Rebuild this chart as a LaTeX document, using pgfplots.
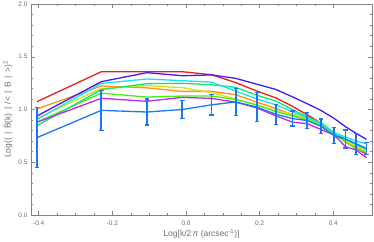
\documentclass[border=0pt]{standalone}
\usepackage{fontspec}
\setmainfont{Liberation Sans}
\usepackage{pgfplots}
\pgfplotsset{compat=1.18}
\definecolor{cRed}{RGB}{235,30,30}
\definecolor{cOrange}{RGB}{255,145,25}
\definecolor{cYellow}{RGB}{215,225,20}
\definecolor{cLime}{RGB}{80,235,20}
\definecolor{cSpring}{RGB}{20,225,110}
\definecolor{cCyan}{RGB}{25,225,240}
\definecolor{cBlue}{RGB}{70,25,240}
\definecolor{cMagenta}{RGB}{190,40,240}
\definecolor{cAzure}{RGB}{25,120,240}
\definecolor{axgray}{RGB}{130,130,130}
\definecolor{lblgray}{RGB}{110,110,110}
\newcommand\gap{\hspace{3.5bp}}
\begin{document}
\begin{tikzpicture}
\begin{axis}[
  scale only axis, width=341bp, height=211bp,
  xmin=-0.421, xmax=0.505, ymin=0, ymax=2,
  xtick={-0.4,-0.2,0,0.2,0.4}, minor x tick num=3,
  ytick={0,0.5,1,1.5,2}, minor y tick num=4,
  tick align=inside,
  major tick length=4bp, minor tick length=2.2bp,
  axis line style={draw=axgray, line width=0.8pt},
  every tick/.style={draw=axgray, line width=0.5pt},
  /pgf/number format/assume math mode=true,
  tick label style={font=\fontsize{6.5}{7.5}\selectfont, text=lblgray,
    /pgf/number format/fixed, /pgf/number format/fixed zerofill,
    /pgf/number format/precision=1},
  xticklabel style={anchor=center, yshift=-8.5bp},
  xlabel={Log[k/2\,{\itshape π} (arcsec\textsuperscript{-1})]},
  ylabel={Log((\gap|\gap$\hat{\mbox{B}}$(k)\gap|\gap/<\gap|\gap B\gap|\gap>)\textsuperscript{2}},
  xlabel style={font=\fontsize{8.5}{10}\selectfont, text=lblgray,
    at={(axis description cs:0.5,-0.0877)}, anchor=center},
  ylabel style={font=\fontsize{8.5}{10}\selectfont, text=lblgray,
    at={(axis description cs:-0.069,0.5)}, anchor=center},
  every axis plot/.append style={line width=1.3pt, mark=none},
]
\coordinate (sw) at (rel axis cs:0,0);
\coordinate (ne) at (rel axis cs:1,1);
\addplot[cRed] coordinates {(-0.405,1.074) (-0.230,1.358) (-0.106,1.358) (-0.010,1.358) (0.069,1.33) (0.135,1.255) (0.192,1.175) (0.244,1.11) (0.289,1.03) (0.329,0.95) (0.367,0.87) (0.402,0.775) (0.433,0.70) (0.462,0.63) (0.490,0.578)};
\addplot[cOrange] coordinates {(-0.405,1.005) (-0.230,1.223) (-0.106,1.205) (-0.010,1.172) (0.069,1.172) (0.135,1.14) (0.192,1.07) (0.244,1.01) (0.289,0.95) (0.329,0.90) (0.367,0.855) (0.402,0.775) (0.433,0.70) (0.462,0.64) (0.490,0.595)};
\addplot[cYellow] coordinates {(-0.405,0.916) (-0.230,1.20) (-0.106,1.226) (-0.010,1.207) (0.069,1.16) (0.135,1.10) (0.192,1.04) (0.244,0.99) (0.289,0.96) (0.329,0.91) (0.367,0.86) (0.402,0.77) (0.433,0.70) (0.462,0.65) (0.490,0.60)};
\addplot[cLime] coordinates {(-0.405,0.88) (-0.230,1.155) (-0.106,1.118) (-0.010,1.128) (0.069,1.128) (0.135,1.095) (0.192,1.045) (0.244,0.98) (0.289,0.94) (0.329,0.90) (0.367,0.85) (0.402,0.77) (0.433,0.69) (0.462,0.63) (0.490,0.59)};
\addplot[cSpring] coordinates {(-0.405,0.846) (-0.230,1.188) (-0.106,1.245) (-0.010,1.248) (0.069,1.235) (0.135,1.21) (0.192,1.135) (0.244,1.08) (0.289,1.00) (0.329,0.93) (0.367,0.875) (0.402,0.78) (0.433,0.72) (0.462,0.665) (0.490,0.62)};
\addplot[cCyan] coordinates {(-0.405,0.905) (-0.230,1.248) (-0.106,1.289) (-0.010,1.273) (0.069,1.26) (0.135,1.175) (0.192,1.10) (0.244,1.045) (0.289,0.98) (0.329,0.92) (0.367,0.87) (0.402,0.78) (0.433,0.74) (0.462,0.70) (0.490,0.675)};
\addplot[cBlue] coordinates {(-0.405,0.938) (-0.230,1.264) (-0.106,1.349) (-0.010,1.32) (0.069,1.328) (0.135,1.295) (0.192,1.24) (0.244,1.19) (0.289,1.12) (0.329,1.055) (0.367,0.99) (0.402,0.916) (0.433,0.837) (0.462,0.774) (0.490,0.717)};
\addplot[cMagenta] coordinates {(-0.405,0.879) (-0.230,1.106) (-0.106,1.078) (-0.010,1.115) (0.069,1.105) (0.135,1.07) (0.192,1.015) (0.244,0.94) (0.289,0.88) (0.329,0.866) (0.367,0.81) (0.402,0.758) (0.433,0.648) (0.462,0.616) (0.490,0.543)};
\addplot[cAzure, error bars/.cd, y dir=both, y explicit,
  error bar style={line width=1.8pt, solid, draw=cAzure},
  error mark options={rotate=90, mark size=2.2bp, line width=1.4pt, draw=cAzure}]
  coordinates {
  (-0.405,0.733) +- (0,0.285)
  (-0.230,0.992) +- (0,0.19)
  (-0.106,0.976) +- (0,0.123)
  (-0.010,1.0) +- (0,0.083)
  (0.069,1.044) +- (0,0.096)
  (0.135,1.072) +- (0,0.128)
  (0.192,1.023) +- (0,0.138)
  (0.244,0.955) +- (0,0.095)
  (0.289,0.914) +- (0,0.07)
  (0.329,0.895) +- (0,0.075)
  (0.367,0.84) +- (0,0.07)
  (0.402,0.753) +- (0,0.077)
  (0.433,0.72) +- (0,0.085)
  (0.462,0.675) +- (0,0.10)
  (0.490,0.632) +- (0,0.057)
  };
\end{axis}
\pgfresetboundingbox
\path ([shift={(-31bp,-27bp)}]sw) rectangle ([shift={(2bp,4bp)}]ne);
\end{tikzpicture}
\end{document}
